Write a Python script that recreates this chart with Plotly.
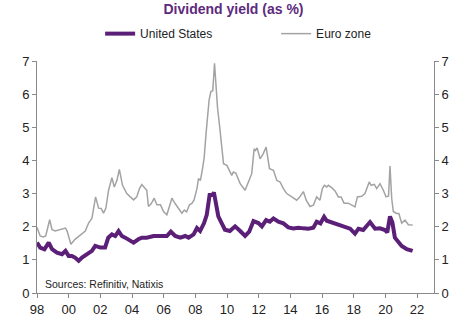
import plotly.graph_objects as go

# ---- data (decimal years) ----
euro_x = [1998.00, 1998.20, 1998.40, 1998.55, 1998.80, 1998.95, 1999.15, 1999.47, 1999.80, 1999.90,
          2000.14, 2000.40, 2000.73, 2001.05, 2001.26, 2001.47, 2001.70, 2001.89, 2002.05, 2002.20,
          2002.35, 2002.52, 2002.73, 2002.88, 2003.05, 2003.20, 2003.40, 2003.67, 2003.89, 2004.10,
          2004.30, 2004.47, 2004.62, 2004.93, 2005.04, 2005.22, 2005.40, 2005.57, 2005.80, 2005.99,
          2006.20, 2006.36, 2006.52, 2006.72, 2006.93, 2007.15, 2007.30, 2007.45, 2007.63, 2007.78,
          2007.92, 2008.10, 2008.20, 2008.32, 2008.47, 2008.56, 2008.68, 2008.77, 2008.87, 2008.98,
          2009.10, 2009.21, 2009.32, 2009.40, 2009.53, 2009.67, 2009.78, 2009.99, 2010.15, 2010.30,
          2010.40, 2010.55, 2010.83, 2011.14, 2011.35, 2011.56, 2011.71, 2011.80, 2011.90, 2012.09,
          2012.28, 2012.47, 2012.68, 2012.93, 2013.14, 2013.35, 2013.56, 2013.77, 2014.09, 2014.40,
          2014.60, 2014.82, 2015.00, 2015.24, 2015.45, 2015.66, 2015.87, 2016.02, 2016.15, 2016.30,
          2016.40, 2016.61, 2016.82, 2017.03, 2017.20, 2017.39, 2017.65, 2017.87, 2018.08, 2018.23,
          2018.50, 2018.71, 2018.98, 2019.10, 2019.30, 2019.45, 2019.66, 2019.87, 2020.04, 2020.20,
          2020.29, 2020.40, 2020.50, 2020.70, 2020.85, 2021.03, 2021.24, 2021.45, 2021.72]
euro_y = [1.98, 1.72, 1.69, 1.72, 2.21, 1.91, 1.87, 1.91, 1.96, 1.87,
          1.47, 1.62, 1.76, 1.87, 2.11, 2.26, 2.90, 2.56, 2.55, 2.41,
          2.56, 3.10, 3.48, 3.20, 3.40, 3.73, 3.25, 3.00, 2.90, 2.81,
          2.90, 3.15, 3.27, 3.10, 2.61, 2.70, 2.86, 2.66, 2.66, 2.46,
          2.36, 2.60, 2.86, 2.70, 2.56, 2.41, 2.50, 2.45, 2.66, 2.70,
          2.81, 3.15, 3.45, 3.40, 3.80, 4.10, 4.84, 5.34, 5.83, 6.08,
          6.10, 6.93, 6.10, 5.59, 5.04, 4.35, 3.90, 3.85, 3.70, 3.55,
          3.65, 3.62, 3.30, 3.10, 3.35, 3.60, 4.35, 4.30, 4.38, 4.05,
          4.20, 4.40, 3.75, 3.70, 3.40, 3.35, 3.15, 3.00, 2.90, 2.80,
          2.90, 3.06, 2.80, 2.61, 2.65, 2.90, 2.80, 3.15, 3.25, 3.20,
          3.25, 3.18, 3.08, 2.90, 2.90, 2.71, 2.71, 2.65, 2.60, 2.90,
          2.92, 3.00, 3.35, 3.25, 3.28, 3.15, 3.30, 3.10, 2.90, 2.93,
          3.83, 2.85, 2.46, 2.40, 2.40, 2.11, 2.20, 2.06, 2.05]

us_x = [1998.00, 1998.20, 1998.47, 1998.74, 1998.95, 1999.26, 1999.58, 1999.80, 2000.00, 2000.20,
        2000.40, 2000.63, 2000.84, 2001.16, 2001.47, 2001.68, 2002.00, 2002.30, 2002.50, 2002.73,
        2002.94, 2003.15, 2003.36, 2003.57, 2003.78, 2004.10, 2004.40, 2004.62, 2004.93, 2005.36,
        2005.78, 2006.20, 2006.45, 2006.73, 2007.05, 2007.36, 2007.57, 2007.89, 2008.10, 2008.30,
        2008.55, 2008.72, 2008.90, 2009.10, 2009.17, 2009.30, 2009.45, 2009.66, 2009.87, 2010.18,
        2010.51, 2010.83, 2011.14, 2011.40, 2011.67, 2011.98, 2012.20, 2012.47, 2012.70, 2012.93,
        2013.24, 2013.56, 2013.87, 2014.19, 2014.50, 2014.82, 2015.13, 2015.45, 2015.66, 2015.90,
        2016.13, 2016.30, 2016.60, 2016.92, 2017.20, 2017.45, 2017.77, 2018.08, 2018.30, 2018.60,
        2019.03, 2019.35, 2019.66, 2019.98, 2020.12, 2020.29, 2020.44, 2020.60, 2020.82, 2021.03,
        2021.35, 2021.72]
us_y = [1.52, 1.37, 1.32, 1.52, 1.32, 1.22, 1.17, 1.27, 1.12, 1.12,
        1.07, 0.97, 1.07, 1.17, 1.27, 1.42, 1.37, 1.37, 1.67, 1.77,
        1.72, 1.87, 1.72, 1.67, 1.62, 1.52, 1.62, 1.67, 1.67, 1.72,
        1.72, 1.72, 1.85, 1.72, 1.67, 1.72, 1.67, 1.77, 1.96, 1.87,
        2.11, 2.36, 2.96, 2.96, 3.04, 2.66, 2.31, 2.11, 1.91, 1.87,
        2.01, 1.87, 1.72, 1.85, 2.17, 2.11, 2.01, 2.20, 2.15, 2.25,
        2.15, 2.10, 1.98, 1.95, 1.97, 1.95, 1.94, 1.97, 2.15, 2.10,
        2.30, 2.18, 2.13, 2.08, 2.05, 2.00, 1.94, 1.79, 1.94, 1.90,
        2.14, 1.94, 1.95, 1.90, 1.83, 2.31, 2.13, 1.67, 1.55, 1.42,
        1.32, 1.27]

x_tickvals = [1998, 2000, 2002, 2004, 2006, 2008, 2010, 2012, 2014, 2016, 2018, 2020, 2022]
x_ticktext = ["98", "00", "02", "04", "06", "08", "10", "12", "14", "16", "18", "20", "22"]
y_tickvals = [0, 1, 2, 3, 4, 5, 6, 7]

PURPLE = "#5b1f78"
GREY = "#a3a3a3"
AXIS = "#8a8a8a"
FONT = "Liberation Sans, Arial, sans-serif"

fig = go.Figure()
fig.add_trace(go.Scatter(x=us_x, y=us_y, name="United States", mode="lines",
                         line=dict(color=PURPLE, width=4), yaxis="y2"))
fig.add_trace(go.Scatter(x=euro_x, y=euro_y, name="Euro zone", mode="lines",
                         line=dict(color=GREY, width=1.5), yaxis="y"))

axis_common = dict(showgrid=False, zeroline=False, showline=True, linecolor=AXIS, linewidth=1,
                   ticks="outside", ticklen=4, tickcolor=AXIS, tickwidth=1,
                   tickfont=dict(family=FONT, size=13, color="#222222"))

fig.update_layout(
    width=467, height=329,
    margin=dict(l=37, r=33, t=61, b=33),
    paper_bgcolor="white", plot_bgcolor="white",
    font=dict(family=FONT, color="#222222"),
    title=dict(text="<b>Dividend yield (as %)</b>", x=0.5, xanchor="center",
               y=0.971, yanchor="middle", font=dict(family=FONT, size=14, color="#5e2a7e")),
    xaxis=dict(range=[1998, 2023.07], tickvals=x_tickvals, ticktext=x_ticktext, **axis_common),
    yaxis=dict(range=[0, 7], tickvals=y_tickvals, **axis_common),
    yaxis2=dict(range=[0, 7], tickvals=y_tickvals, overlaying="y", side="right", **axis_common),
    legend=dict(orientation="h", x=0.159, xanchor="left", y=1.118, yanchor="middle",
                font=dict(family=FONT, size=12, color="#222222"), entrywidth=131,
                bgcolor="rgba(0,0,0,0)", traceorder="normal"),
    showlegend=True,
)

fig.add_annotation(text="Sources: Refinitiv, Natixis", xref="paper", yref="paper",
                   x=0.016, y=0.038, xanchor="left", yanchor="middle", showarrow=False,
                   font=dict(family=FONT, size=10.5, color="#222222"))

fig.write_html("out.html")
